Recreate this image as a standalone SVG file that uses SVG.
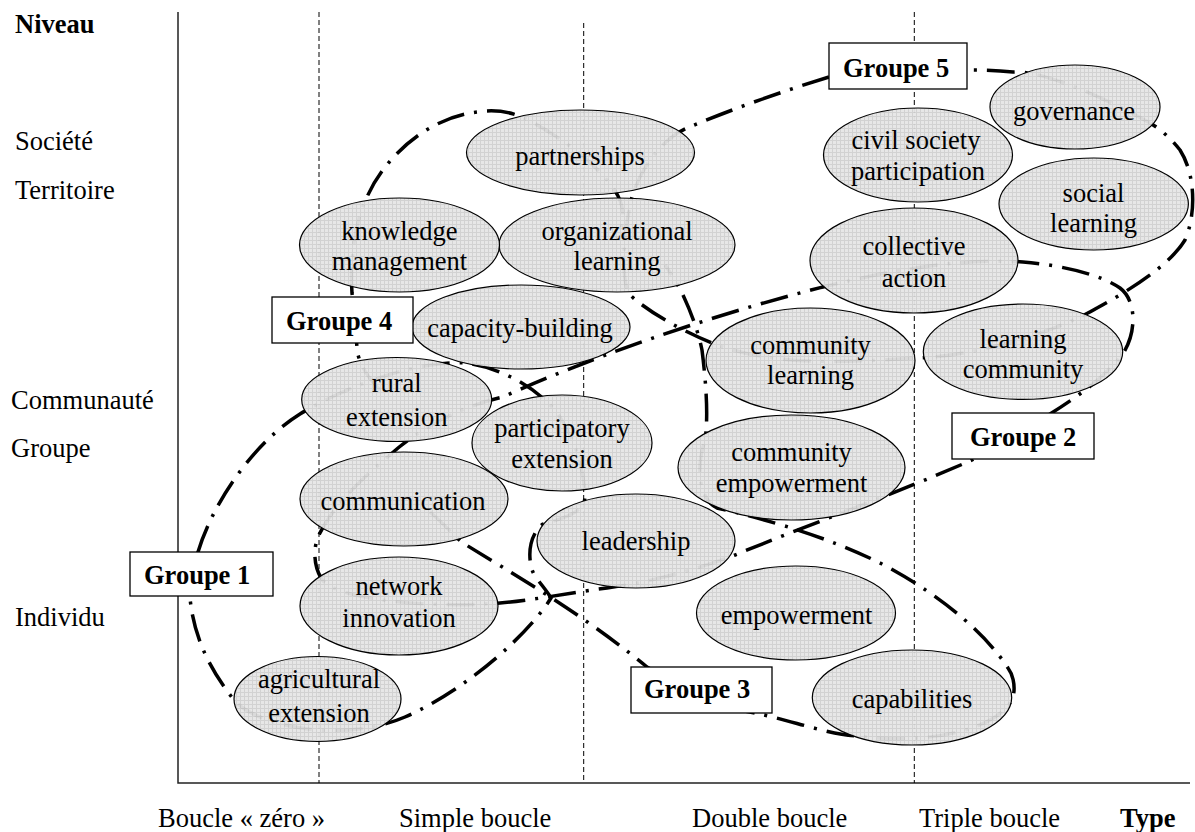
<svg xmlns="http://www.w3.org/2000/svg" width="1195" height="832" viewBox="0 0 1195 832">
<defs>
<pattern id="tex" width="4" height="4" patternUnits="userSpaceOnUse"><rect width="4" height="4" fill="#e6e6e6"/><path d="M0 0.5H4M0.5 0V4" stroke="#d0d0d0" stroke-width="1"/></pattern>
<style>
text{font-family:"Liberation Serif","Times New Roman",serif;font-size:26.5px;fill:#000}
.b{font-weight:bold}
.c{text-anchor:middle}
.axis{stroke:#222;stroke-width:1.5;fill:none}
.guide{stroke:#000;stroke-width:1;stroke-dasharray:5 3;fill:none}
.grp{fill:none;stroke:#000;stroke-width:3.5;stroke-dasharray:28 10 3 10}
.node ellipse{fill:url(#tex);fill-opacity:0.95;stroke:#000;stroke-width:1.2}
.lbl rect{fill:#fff;stroke:#000;stroke-width:1.3}
</style>
</defs>
<rect width="1195" height="832" fill="#fff"/>
<g id="axes">
<path class="axis" d="M178 12V783H1190"/>
<path class="guide" d="M319 12V783"/>
<path class="guide" d="M583.7 23V783"/>
<path class="guide" d="M914.3 12V783"/>
</g>
<g id="axis-labels">
<text x="15" y="33" class="b">Niveau</text>
<text x="15" y="150">Société</text>
<text x="15" y="199">Territoire</text>
<text x="11" y="409">Communauté</text>
<text x="11" y="457">Groupe</text>
<text x="15" y="626">Individu</text>
<text x="158" y="827">Boucle « zéro »</text>
<text x="399" y="827">Simple boucle</text>
<text x="692" y="827">Double boucle</text>
<text x="919" y="827">Triple boucle</text>
<text x="1120" y="827" class="b">Type</text>
</g>
<g id="connectors">
<path id="groupe1-boundary" class="grp" d="M198 552C212 505 252 444 300 414C350 384 420 360 465 363C495 366 532 384 555 410C572 432 584 465 585 495C586 512 565 518 543 524C527 535 526 568 538 580C544 588 549 594 551 598C530 632 470 688 405 717C340 745 255 725 234 700C212 672 194 640 190 598C188 580 192 562 198 552Z"/>
<path id="groupe2-boundary" class="grp" d="M1050 414C1010 435 990 450 972 460C900 492 800 528 735 555C690 572 640 584 607 588C575 592 535 600 500 603C440 608 335 602 321 578C314 566 313 550 318 537C335 500 375 468 398 448C430 422 470 404 503 397C580 362 700 318 823 287C900 268 965 258 1023 262C1060 265 1100 274 1120 288C1136 300 1137 330 1124 352C1108 375 1080 395 1050 414Z"/>
<path id="groupe3-boundary" class="grp" d="M430 512C445 525 455 537 463 543C510 572 580 612 647 667C690 690 720 708 755 713C790 720 830 735 857 736C930 745 995 730 1012 700C1016 690 1014 676 1008 668C990 640 950 600 882 564C850 548 800 527 717 508C700 500 695 470 705 440C708 420 707 390 702 350C698 330 690 310 683 295C678 285 672 275 665 265"/>
<path id="groupe4-boundary" class="grp" d="M380 390C365 375 358 360 357 349C356 330 354 310 352 293C350 260 355 220 367 197C383 160 425 118 477 112C495 109 510 112 522 117C560 135 605 170 618 196C625 210 625 225 615 240"/>
<path id="groupe5-boundary" class="grp" d="M829 77C780 92 730 110 687 128C660 140 640 170 632 197C625 225 620 270 628 293C645 310 680 330 712 343C780 370 870 360 918 358C980 356 1060 330 1097 308C1130 290 1170 265 1185 240C1196 215 1196 175 1180 150C1172 140 1162 130 1150 123C1100 95 1040 70 1013 72C995 70 980 70 967 70L829 77Z"/>
</g>
<g id="n-partnerships" class="node"><ellipse cx="580.5" cy="152.5" rx="114" ry="42.5"/><text x="580" y="165" class="c">partnerships</text></g>
<g id="n-organizational-learning" class="node"><ellipse cx="617" cy="245" rx="118" ry="47"/><text x="617" y="240" class="c">organizational</text><text x="617" y="270" class="c">learning</text></g>
<g id="n-knowledge-management" class="node"><ellipse cx="399.5" cy="245" rx="100" ry="47"/><text x="399.5" y="240" class="c">knowledge</text><text x="399.5" y="270" class="c">management</text></g>
<g id="n-capacity-building" class="node"><ellipse cx="521" cy="327" rx="109" ry="42"/><text x="520" y="337" class="c">capacity-building</text></g>
<g id="n-rural-extension" class="node"><ellipse cx="396.7" cy="399.5" rx="95" ry="42"/><text x="396.7" y="392" class="c">rural</text><text x="396.7" y="426" class="c">extension</text></g>
<g id="n-participatory-extension" class="node"><ellipse cx="562" cy="443" rx="90" ry="48"/><text x="562" y="437" class="c">participatory</text><text x="562" y="468" class="c">extension</text></g>
<g id="n-communication" class="node"><ellipse cx="404" cy="499" rx="104" ry="47"/><text x="403" y="510" class="c">communication</text></g>
<g id="n-leadership" class="node"><ellipse cx="636" cy="541" rx="99" ry="47"/><text x="636" y="550" class="c">leadership</text></g>
<g id="n-network-innovation" class="node"><ellipse cx="399" cy="606" rx="99" ry="49"/><text x="399" y="595" class="c">network</text><text x="399" y="627" class="c">innovation</text></g>
<g id="n-agricultural-extension" class="node"><ellipse cx="317.5" cy="699" rx="83.5" ry="42.5"/><text x="319" y="688" class="c">agricultural</text><text x="319" y="722" class="c">extension</text></g>
<g id="n-community-learning" class="node"><ellipse cx="810.5" cy="360.5" rx="104.5" ry="52.5"/><text x="810.5" y="354" class="c">community</text><text x="810.5" y="384" class="c">learning</text></g>
<g id="n-community-empowerment" class="node"><ellipse cx="791.5" cy="467.5" rx="113.5" ry="52.5"/><text x="791.5" y="461" class="c">community</text><text x="791.5" y="492" class="c">empowerment</text></g>
<g id="n-learning-community" class="node"><ellipse cx="1023" cy="351.7" rx="99.7" ry="47.7"/><text x="1023" y="348" class="c">learning</text><text x="1023" y="378" class="c">community</text></g>
<g id="n-collective-action" class="node"><ellipse cx="914" cy="260.5" rx="104" ry="52.5"/><text x="914" y="255" class="c">collective</text><text x="914" y="287" class="c">action</text></g>
<g id="n-civil-society-participation" class="node"><ellipse cx="918" cy="155" rx="94.5" ry="47"/><text x="916" y="149" class="c">civil society</text><text x="918" y="180" class="c">participation</text></g>
<g id="n-governance" class="node"><ellipse cx="1075" cy="107" rx="85" ry="42"/><text x="1074" y="120" class="c">governance</text></g>
<g id="n-social-learning" class="node"><ellipse cx="1093.7" cy="204" rx="94.7" ry="46"/><text x="1093.5" y="202" class="c">social</text><text x="1093.5" y="232" class="c">learning</text></g>
<g id="n-empowerment" class="node"><ellipse cx="796" cy="613" rx="99.5" ry="47"/><text x="796.5" y="624" class="c">empowerment</text></g>
<g id="n-capabilities" class="node"><ellipse cx="912" cy="697.5" rx="99.7" ry="47.5"/><text x="912" y="708" class="c">capabilities</text></g>
<g id="label-groupe5" class="lbl"><rect x="829" y="43" width="138" height="46"/><text x="843" y="77" class="b">Groupe 5</text></g>
<g id="label-groupe4" class="lbl"><rect x="272" y="297" width="141" height="46"/><text x="286" y="330" class="b">Groupe 4</text></g>
<g id="label-groupe1" class="lbl"><rect x="130" y="552" width="143" height="44"/><text x="144" y="584" class="b">Groupe 1</text></g>
<g id="label-groupe3" class="lbl"><rect x="631" y="667" width="141" height="46"/><text x="644" y="698" class="b">Groupe 3</text></g>
<g id="label-groupe2" class="lbl"><rect x="952" y="413" width="142" height="46"/><text x="970" y="446" class="b">Groupe 2</text></g>
</svg>
